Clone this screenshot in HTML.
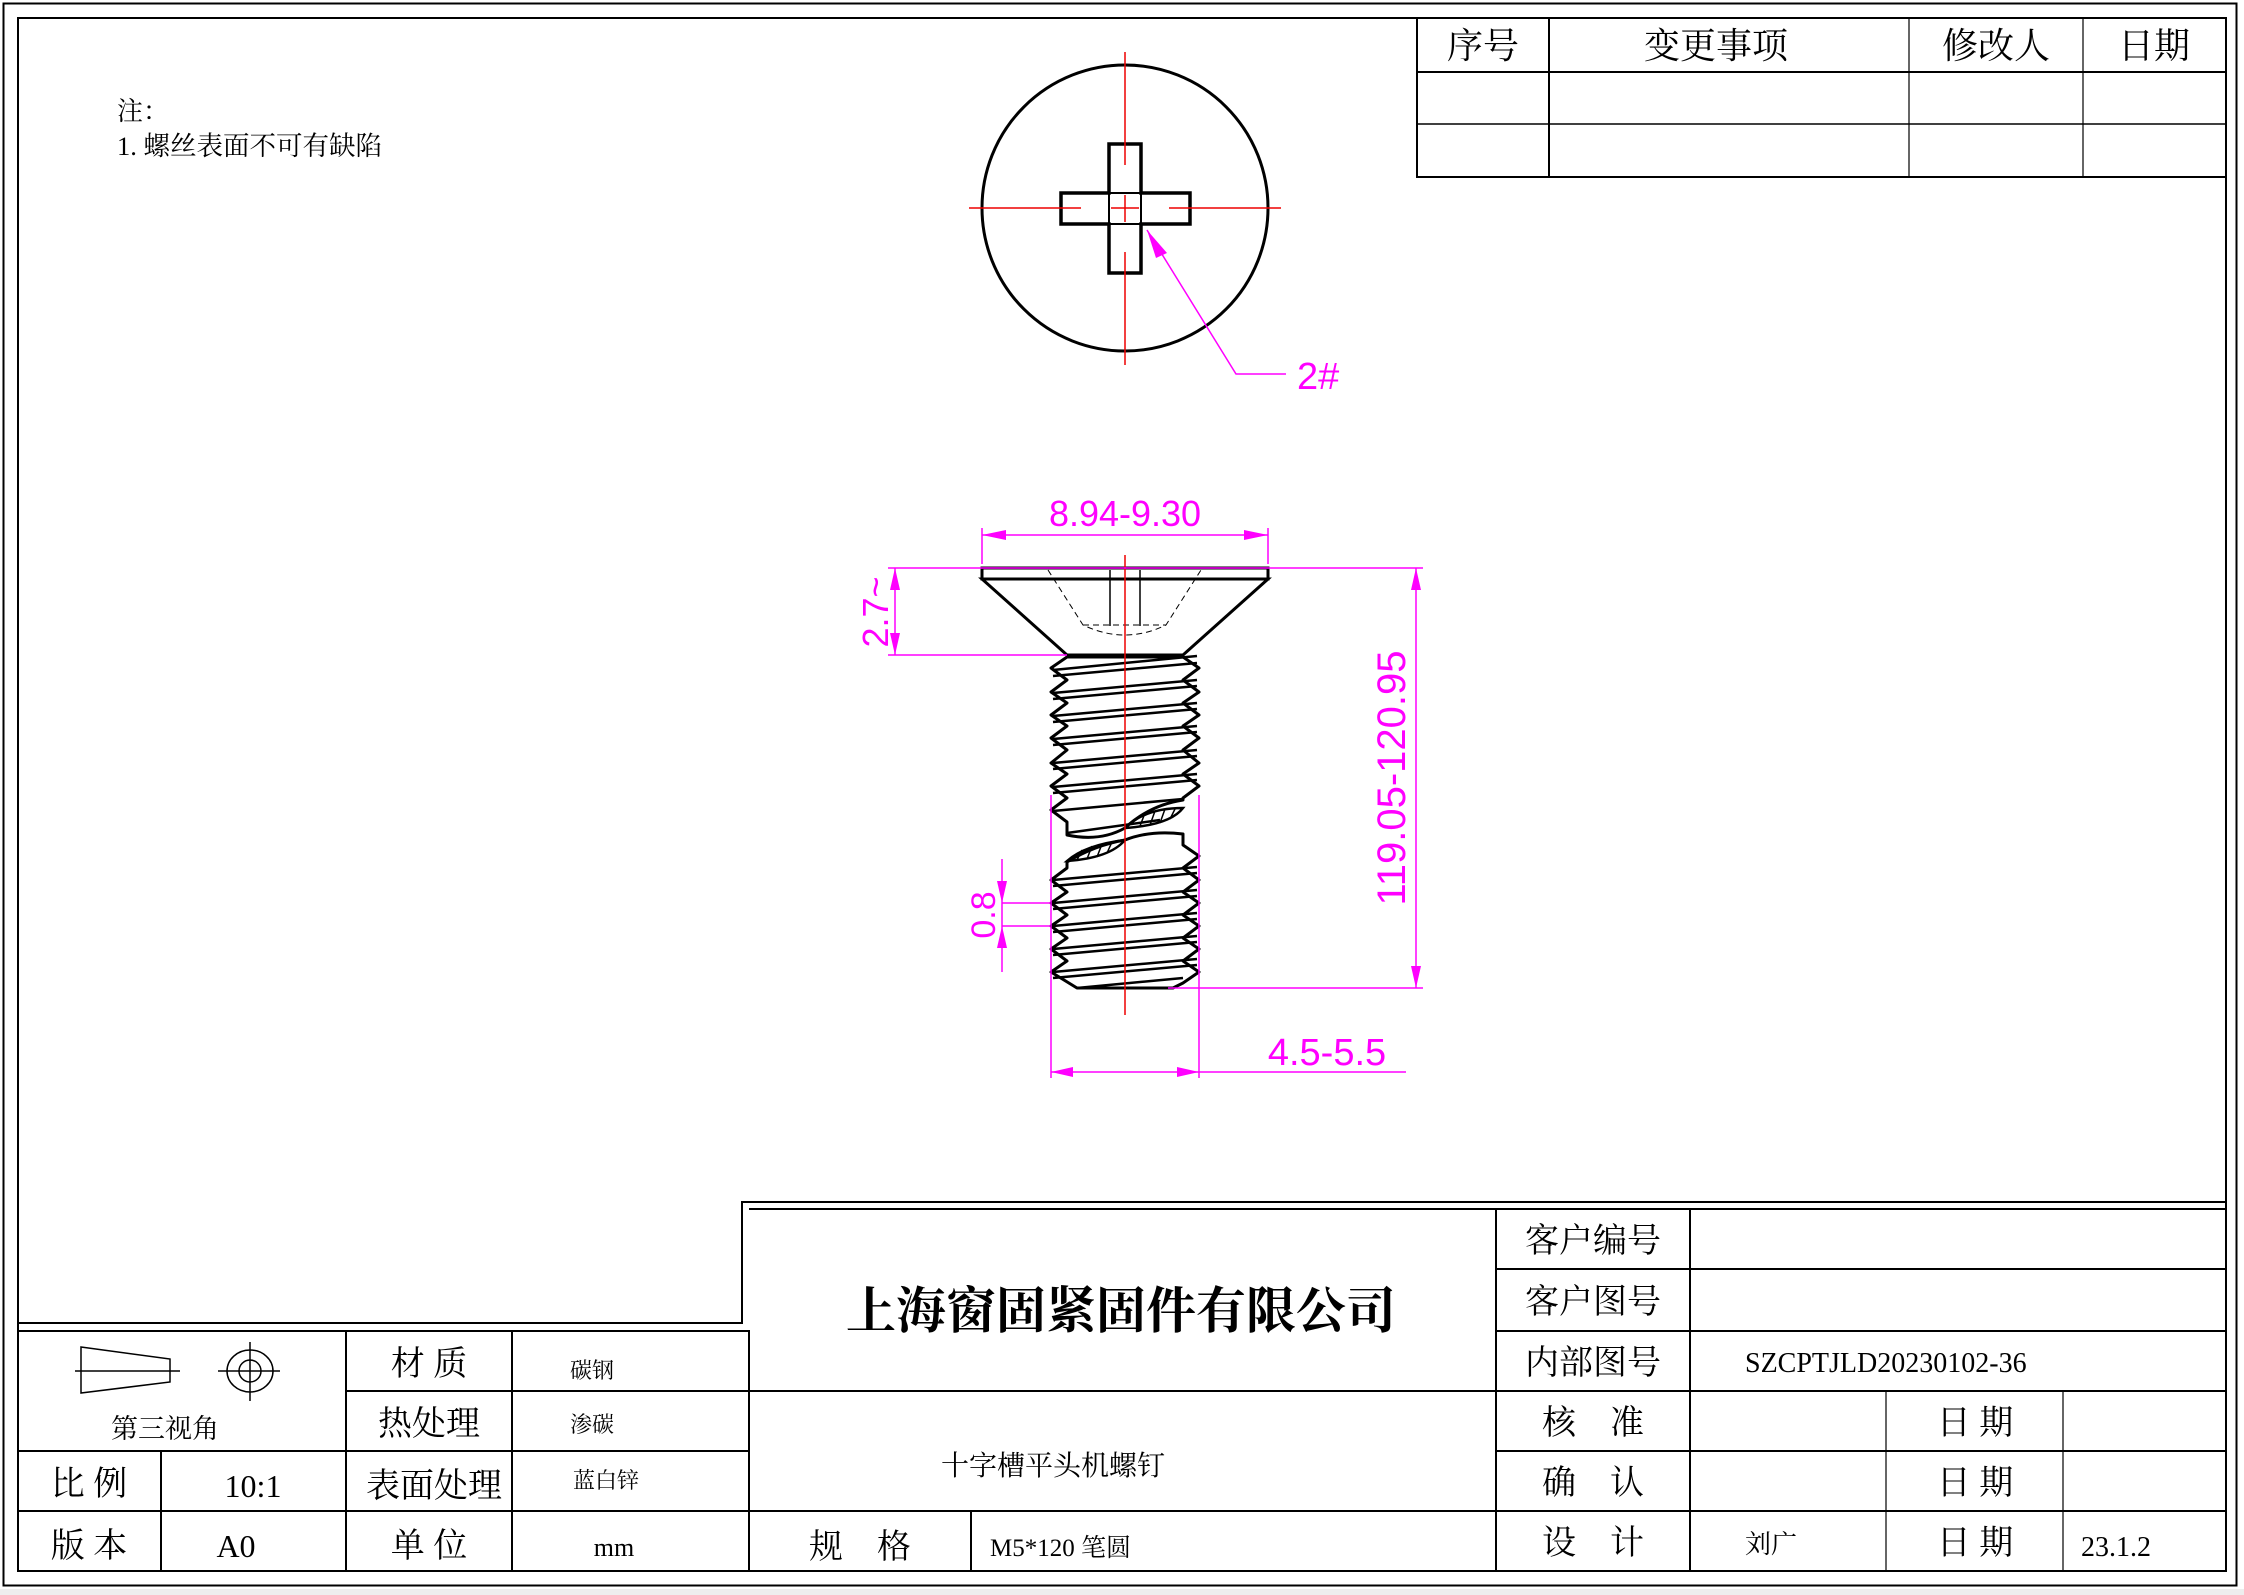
<!DOCTYPE html>
<html><head><meta charset="utf-8"><style>
html,body{margin:0;padding:0;background:#fff;}
svg{display:block;}
.t{font-family:"Liberation Serif","Noto Serif CJK SC",serif;fill:#000;}
.d{font-family:"Liberation Sans",sans-serif;fill:#f0f;font-weight:normal;}
</style></head><body>
<svg width="2244" height="1595" viewBox="0 0 2244 1595" xmlns="http://www.w3.org/2000/svg">
<rect x="0" y="0" width="2244" height="1595" fill="#fff"/>
<rect x="3.5" y="3.5" width="2233" height="1582" fill="none" stroke="#000" stroke-width="2"/>
<rect x="18" y="18" width="2208" height="1553" fill="none" stroke="#000" stroke-width="2"/>
<rect x="0" y="1589" width="2244" height="6" fill="#eee"/>

<text class="t" x="117" y="120" font-size="26">注：</text>
<text class="t" x="117" y="155" font-size="26.5">1. 螺丝表面不可有缺陷</text>

<g stroke="#000" stroke-width="2" fill="none">
<rect x="1417" y="18" width="809" height="159"/>
<line x1="1417" y1="72" x2="2226" y2="72"/>
<line x1="1417" y1="124" x2="2226" y2="124" stroke-width="1.5"/>
<line x1="1549" y1="18" x2="1549" y2="177"/>
<line x1="1909" y1="18" x2="1909" y2="177" stroke-width="1.2"/>
<line x1="2083" y1="18" x2="2083" y2="177" stroke-width="1.2"/>
</g>
<g class="t" font-size="36" text-anchor="middle">
<text x="1483" y="58">序号</text>
<text x="1716" y="58">变更事项</text>
<text x="1996" y="58">修改人</text>
<text x="2154" y="58">日期</text>
</g>

<g stroke="#000" stroke-width="2" fill="none">
<polyline points="18,1323 742,1323 742,1202 2226,1202"/>
<polyline points="18,1331 749,1331 749,1571"/>
<line x1="749" y1="1209" x2="2226" y2="1209"/>
<line x1="346" y1="1331" x2="346" y2="1571"/>
<line x1="512" y1="1331" x2="512" y2="1571"/>
<line x1="161" y1="1451" x2="161" y2="1571"/>
<line x1="346" y1="1391" x2="749" y2="1391"/>
<line x1="18" y1="1451" x2="749" y2="1451"/>
<line x1="18" y1="1511" x2="749" y2="1511"/>
<line x1="749" y1="1391" x2="1496" y2="1391"/>
<line x1="749" y1="1511" x2="1496" y2="1511"/>
<line x1="971" y1="1511" x2="971" y2="1571"/>
<line x1="1496" y1="1209" x2="1496" y2="1571"/>
<line x1="1690" y1="1209" x2="1690" y2="1571"/>
<line x1="1496" y1="1269" x2="2226" y2="1269"/>
<line x1="1496" y1="1331" x2="2226" y2="1331"/>
<line x1="1496" y1="1391" x2="2226" y2="1391"/>
<line x1="1496" y1="1451" x2="2226" y2="1451"/>
<line x1="1496" y1="1511" x2="2226" y2="1511"/>
<line x1="1886" y1="1391" x2="1886" y2="1571" stroke-width="1.2"/>
<line x1="2063" y1="1391" x2="2063" y2="1571" stroke-width="1.2"/>
</g>

<g stroke="#000" stroke-width="1.5" fill="none">
<polygon points="81,1347 170,1359 170,1382 81,1393"/>
<line x1="75" y1="1371" x2="180" y2="1371"/>
<ellipse cx="250" cy="1371" rx="23" ry="21"/>
<ellipse cx="250" cy="1371" rx="11" ry="11"/>
<line x1="218" y1="1371" x2="280" y2="1371"/>
<line x1="250" y1="1342" x2="250" y2="1401"/>
</g>
<text class="t" x="165" y="1438" font-size="27" text-anchor="middle" fill="#333">第三视角</text>

<g class="t" font-size="34" text-anchor="middle">
<text x="429" y="1375">材 质</text>
<text x="429" y="1435">热处理</text>
<text x="434" y="1497">表面处理</text>
<text x="429" y="1557">单 位</text>
<text x="89" y="1495">比 例</text>
<text x="89" y="1557">版 本</text>
</g>
<g class="t" font-size="32" text-anchor="middle">
<text x="253" y="1497">10:1</text>
<text x="236" y="1557">A0</text>
</g>
<g class="t" font-size="22" text-anchor="middle" fill="#222">
<text x="592" y="1378">碳钢</text>
<text x="592" y="1432">渗碳</text>
<text x="606" y="1488">蓝白锌</text>
<text x="614" y="1556" font-size="26">mm</text>
</g>

<text class="t" x="1121" y="1328" font-size="50" font-weight="bold" text-anchor="middle">上海窗固紧固件有限公司</text>
<text class="t" x="1053" y="1475" font-size="28" text-anchor="middle">十字槽平头机螺钉</text>
<text class="t" x="860" y="1558" font-size="34" text-anchor="middle">规　格</text>
<text class="t" x="990" y="1556" font-size="25">M5*120 笔圆</text>

<g class="t" font-size="34" text-anchor="middle">
<text x="1593" y="1252">客户编号</text>
<text x="1593" y="1313">客户图号</text>
<text x="1593" y="1374">内部图号</text>
<text x="1593" y="1434">核　准</text>
<text x="1593" y="1494">确　认</text>
<text x="1593" y="1554">设　计</text>
<text x="1975" y="1434">日 期</text>
<text x="1975" y="1494">日 期</text>
<text x="1975" y="1554">日 期</text>
</g>
<text class="t" x="1745" y="1372" font-size="28">SZCPTJLD20230102-36</text>
<text class="t" x="1745" y="1553" font-size="26">刘广</text>
<text class="t" x="2081" y="1556" font-size="28">23.1.2</text>

<g>
<circle cx="1125" cy="208" r="143" fill="none" stroke="#000" stroke-width="3"/>
<path d="M1109,144 H1141 V193 H1190 V224 H1141 V273 H1109 V224 H1061 V193 H1109 Z" fill="none" stroke="#000" stroke-width="3.5"/>
<rect x="1109" y="193" width="32" height="31" fill="none" stroke="#000" stroke-width="2"/>
<line x1="969" y1="208" x2="1081" y2="208" stroke="#e00" stroke-width="1.5"/>
<line x1="1169" y1="208" x2="1281" y2="208" stroke="#e00" stroke-width="1.5"/>
<line x1="1111" y1="208" x2="1139" y2="208" stroke="#e00" stroke-width="1.5"/>
<line x1="1125" y1="52" x2="1125" y2="165" stroke="#e00" stroke-width="1.5"/>
<line x1="1125" y1="252" x2="1125" y2="365" stroke="#e00" stroke-width="1.5"/>
<line x1="1125" y1="195" x2="1125" y2="222" stroke="#e00" stroke-width="1.5"/>
<polyline points="1147,230 1236,374 1286,374" fill="none" stroke="#f0f" stroke-width="1.5"/>
<polygon points="1147,230 1167,253 1156,258" fill="#f0f"/>
<text class="d" x="1297" y="389" font-size="38">2#</text>
</g>

<g stroke="#000" fill="none">
<rect x="982" y="568" width="286" height="11" stroke-width="3"/>
<polygon points="982,579 1268,579 1183,655 1067,655" stroke-width="3"/>
<path d="M1048,570 L1083,625 Q1125,645 1166,625 L1201,570" stroke-width="1" stroke-dasharray="6,4"/>
<line x1="1083" y1="625" x2="1166" y2="625" stroke-width="1" stroke-dasharray="6,4"/>
<line x1="1110" y1="570" x2="1110" y2="626" stroke-width="1.5"/>
<line x1="1140" y1="570" x2="1140" y2="626" stroke-width="1.5"/>
</g>
<g stroke="#000" stroke-width="3" fill="none" stroke-linejoin="round">
<path d="M1067,657 L1051,668 L1067,680 L1051,692 L1067,703 L1051,715 L1067,726 L1051,738 L1067,750 L1051,763 L1067,774 L1051,786 L1067,798 L1051,810 L1067,822 L1067,835 Q1100,842 1125,828 Q1150,805 1183,800 L1183,798 L1199,786 L1183,774 L1199,763 L1183,750 L1199,738 L1183,726 L1199,715 L1183,703 L1199,692 L1183,680 L1199,668 L1183,657 Z"/>
<path d="M1067,862 Q1095,845 1125,840 Q1150,830 1183,834 L1183,845 L1199,856 L1183,868 L1199,880 L1183,892 L1199,903 L1183,915 L1199,926 L1183,938 L1199,949 L1183,961 L1199,972 L1183,983 L1173,988 L1077,988 L1051,972 L1067,961 L1051,949 L1067,938 L1051,926 L1067,915 L1051,903 L1067,892 L1051,880 L1067,868 Z"/>
<line x1="1067" y1="657" x2="1183" y2="657"/>
</g>
<g stroke="#000" stroke-width="2.5">
<line x1="1053" y1="670" x2="1197" y2="656"/><line x1="1053" y1="676" x2="1197" y2="663"/>
<line x1="1053" y1="693" x2="1197" y2="680"/><line x1="1053" y1="699" x2="1197" y2="686"/>
<line x1="1053" y1="716" x2="1197" y2="703"/><line x1="1053" y1="722" x2="1197" y2="709"/>
<line x1="1053" y1="739" x2="1197" y2="726"/><line x1="1053" y1="745" x2="1197" y2="732"/>
<line x1="1053" y1="763" x2="1197" y2="750"/><line x1="1053" y1="769" x2="1197" y2="756"/>
<line x1="1053" y1="787" x2="1197" y2="774"/><line x1="1053" y1="793" x2="1197" y2="780"/>
<line x1="1053" y1="811" x2="1183" y2="799"/>
<line x1="1067" y1="833" x2="1160" y2="820"/>
<line x1="1053" y1="880" x2="1197" y2="867"/><line x1="1053" y1="886" x2="1197" y2="873"/>
<line x1="1053" y1="903" x2="1197" y2="890"/><line x1="1053" y1="909" x2="1197" y2="896"/>
<line x1="1053" y1="926" x2="1197" y2="913"/><line x1="1053" y1="932" x2="1197" y2="919"/>
<line x1="1053" y1="949" x2="1197" y2="936"/><line x1="1053" y1="955" x2="1197" y2="942"/>
<line x1="1053" y1="972" x2="1197" y2="959"/><line x1="1053" y1="978" x2="1197" y2="965"/>
<line x1="1077" y1="988" x2="1183" y2="978"/>
</g>
<g stroke="#000" fill="none">
<path d="M1125,828 Q1145,808 1183,808 Q1170,825 1125,828 Z" stroke-width="2.5"/>
<path d="M1067,861 Q1085,845 1125,840 Q1110,858 1067,861 Z" stroke-width="2.5"/>
<g stroke-width="1.5">
<line x1="1140" y1="826" x2="1145" y2="813"/><line x1="1150" y1="825" x2="1155" y2="811"/><line x1="1160" y1="823" x2="1165" y2="809"/><line x1="1170" y1="819" x2="1175" y2="809"/>
<line x1="1077" y1="860" x2="1082" y2="850"/><line x1="1087" y1="859" x2="1092" y2="846"/><line x1="1097" y1="857" x2="1102" y2="844"/><line x1="1107" y1="853" x2="1112" y2="842"/>
</g>
</g>
<line x1="1125" y1="555" x2="1125" y2="1015" stroke="#e00" stroke-width="1.5"/>

<g stroke="#f0f" stroke-width="1.5" fill="none">
<line x1="982" y1="528" x2="982" y2="564"/>
<line x1="1268" y1="528" x2="1268" y2="564"/>
<line x1="982" y1="535" x2="1268" y2="535"/>
<line x1="888" y1="568" x2="1423" y2="568"/>
<line x1="888" y1="655" x2="1067" y2="655"/>
<line x1="895" y1="568" x2="895" y2="655"/>
<line x1="1416" y1="568" x2="1416" y2="988"/>
<line x1="1168" y1="988" x2="1423" y2="988"/>
<line x1="1002" y1="859" x2="1002" y2="972"/>
<line x1="1002" y1="903" x2="1050" y2="903"/>
<line x1="1002" y1="926" x2="1050" y2="926"/>
<line x1="1051" y1="795" x2="1051" y2="1078"/>
<line x1="1199" y1="795" x2="1199" y2="1078"/>
<line x1="1051" y1="1072" x2="1406" y2="1072"/>
</g>
<g fill="#f0f">
<polygon points="982,535 1006,530 1006,540"/>
<polygon points="1268,535 1244,530 1244,540"/>
<polygon points="895,568 890,590 900,590"/>
<polygon points="895,655 890,633 900,633"/>
<polygon points="1416,568 1411,590 1421,590"/>
<polygon points="1416,988 1411,966 1421,966"/>
<polygon points="1002,903 997,881 1007,881"/>
<polygon points="1002,926 997,948 1007,948"/>
<polygon points="1051,1072 1073,1067 1073,1077"/>
<polygon points="1199,1072 1177,1067 1177,1077"/>
</g>
<g class="d">
<text x="1125" y="526" font-size="36" text-anchor="middle">8.94-9.30</text>
<text transform="translate(888,612) rotate(-90)" font-size="36" text-anchor="middle">2.7~</text>
<text transform="translate(1405,778) rotate(-90)" font-size="40" text-anchor="middle">119.05-120.95</text>
<text transform="translate(995,915) rotate(-90)" font-size="34" text-anchor="middle">0.8</text>
<text x="1327" y="1065" font-size="38" text-anchor="middle">4.5-5.5</text>
</g>
</svg>
</body></html>
